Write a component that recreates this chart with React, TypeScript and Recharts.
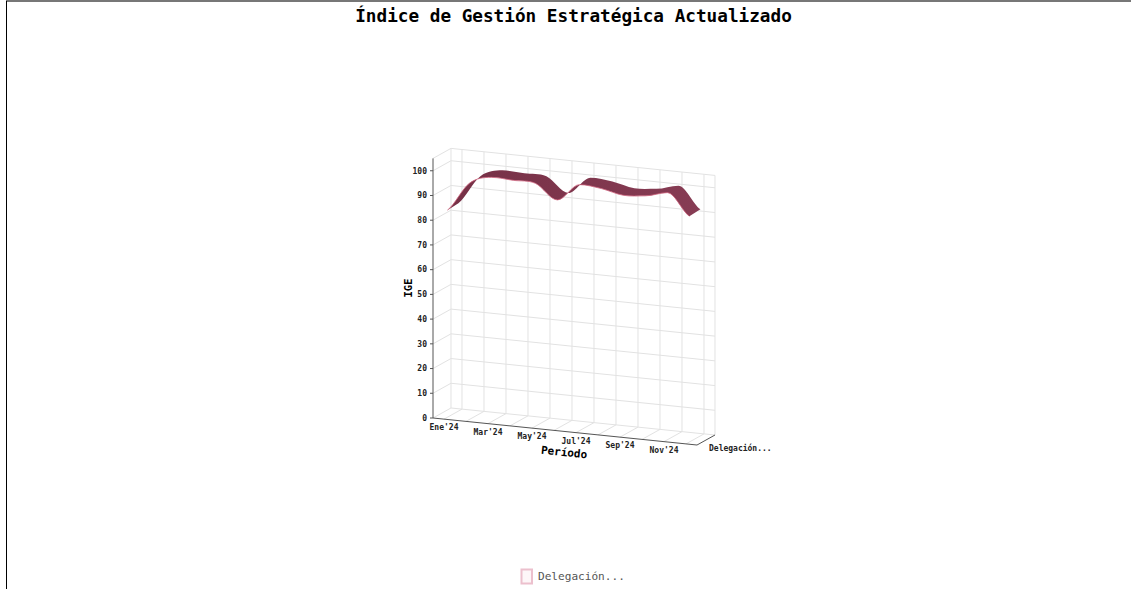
import React from 'react';
import { ComposedChart, Line, XAxis, YAxis, ReferenceLine } from 'recharts';

const months = ["Ene'24", "Feb'24", "Mar'24", "Abr'24", "May'24", "Jun'24", "Jul'24", "Ago'24", "Sep'24", "Oct'24", "Nov'24", "Dic'24"];
const ige = [83.7, 95.5, 98.8, 98.5, 98.2, 92.4, 99.5, 98.8, 97, 97.7, 99.9, 91.3];
const yTicks = [0, 10, 20, 30, 40, 50, 60, 70, 80, 90, 100];
const xTicks = [0, 2, 4, 6, 8, 10];

const data = months.map((m, i) => ({ i, month: m, ige: ige[i] }));

const MONO = '"DejaVu Sans Mono", monospace';
const GRID = '#e2e2e2';
const LEFT = 433;
const SHEAR = 0.1023; // px of drop per px of x on the front plane
const TOP_V = 105;

// front plane is sheared, depth goes up and to the right
const project = (i: number, v: number, depth: number) => ({
  x: i + 0.818 * depth,
  y: v - (i + 0.5) * 0.911 + 4.05 * depth,
});

const seg = (a: { x: number; y: number }, b: { x: number; y: number }, key: string, stroke = GRID) => (
  <ReferenceLine key={key} segment={[a, b]} stroke={stroke} strokeWidth={1} ifOverflow="visible" />
);

const gridLines = [
  ...yTicks.map((v) => seg(project(-0.5, v, 1), project(11.5, v, 1), `back-${v}`)),
  ...yTicks.map((v) => seg(project(-0.5, v, 0), project(-0.5, v, 1), `side-${v}`)),
  ...months.map((_, i) => seg(project(i, 0, 1), project(i, TOP_V, 1), `vert-${i}`)),
  ...months.map((_, i) => seg(project(i, 0, 0), project(i, 0, 1), `floor-${i}`)),
  seg(project(-0.5, 0, 1), project(-0.5, TOP_V, 1), 'wall-l'),
  seg(project(11.5, 0, 1), project(11.5, TOP_V, 1), 'wall-r'),
  seg(project(-0.5, TOP_V, 1), project(11.5, TOP_V, 1), 'wall-t'),
  seg(project(-0.5, TOP_V, 0), project(-0.5, TOP_V, 1), 'side-t'),
  seg(project(-0.5, 0, 0), project(11.5, 0, 0), 'axis-front', '#555555'),
  seg(project(11.5, 0, 0), project(11.5, 0, 1), 'axis-depth', '#555555'),
];

type P = { x: number; y: number };

// smooth segments through the points, flat tangents at local peaks
const spline = (pts: P[]) => {
  const slope = (k: number) => {
    if (k === 0 || k === pts.length - 1) return 0.6 * (k === 0 ? pts[1].y - pts[0].y : pts[k].y - pts[k - 1].y);
    const a = pts[k].y - pts[k - 1].y;
    const b = pts[k + 1].y - pts[k].y;
    return a * b <= 0 ? 0 : (a + b) / 2;
  };
  let d = '';
  for (let k = 0; k < pts.length - 1; k++) {
    const dx = (pts[k + 1].x - pts[k].x) / 3;
    d += ` C${pts[k].x + dx},${pts[k].y + slope(k) / 3} ${pts[k + 1].x - dx},${pts[k + 1].y - slope(k + 1) / 3} ${pts[k + 1].x},${pts[k + 1].y}`;
  }
  return d;
};

const Ribbon = (props: any) => {
  const { index, points } = props;
  if (index !== 0 || !points) return <g key={`r-${index}`} />;
  const front: P[] = points.map((p: any) => ({ x: p.x + 3.4, y: p.y + (p.x - LEFT) * SHEAR - 2 }));
  const back: P[] = front.map((p) => ({ x: p.x + 11, y: p.y - 7 }));
  const rev = [...back].reverse();
  const area = `M${front[0].x},${front[0].y}${spline(front)} L${rev[0].x},${rev[0].y}${spline(rev)} Z`;
  return (
    <g key="ribbon">
      <defs>
        <linearGradient id="ribbonFill" x1="0" y1="0" x2="1" y2="0">
          <stop offset="0%" stopColor="#763046" />
          <stop offset="100%" stopColor="#873c54" />
        </linearGradient>
      </defs>
      <path d={area} fill="url(#ribbonFill)" stroke="none" />
      <path d={`M${front[0].x},${front[0].y}${spline(front)}`} fill="none" stroke="#d0647f" strokeWidth={0.8} />
    </g>
  );
};

const MonthTick = (props: any) => {
  const { x, payload } = props;
  return (
    <text x={x} y={417 + (x - LEFT) * SHEAR + 12} textAnchor="middle" fontFamily={MONO} fontSize={8} fontWeight="bold" fill="#222">
      {months[payload.value]}
    </text>
  );
};

export default function App() {
  return (
    <div style={{ position: 'absolute', left: 0, top: 0, width: 1131, height: 589, overflow: 'hidden', background: '#fff' }}>
      <div style={{ position: 'absolute', left: 6, top: 0, right: 0, borderTop: '2px solid #777' }} />
      <div style={{ position: 'absolute', left: 6, top: 1, bottom: 0, borderLeft: '1px solid #000' }} />
      <ComposedChart width={1131} height={589} data={data} margin={{ top: 158.4, right: 434, bottom: 170, left: 393 }}>
        <XAxis dataKey="i" type="number" domain={[-0.5, 11.5]} ticks={xTicks} height={1} axisLine={false} tickLine={false} tick={MonthTick} interval={0} />
        <YAxis
          type="number"
          domain={[0, TOP_V]}
          ticks={yTicks}
          width={40}
          interval={0}
          stroke="#555555"
          tickSize={3}
          tickMargin={3}
          tick={{ fontFamily: MONO, fontSize: 8, fontWeight: 'bold', fill: '#222' }}
        />
        {gridLines}
        <Line dataKey="ige" stroke="none" dot={Ribbon} activeDot={false} isAnimationActive={false} />
        <text x={573.5} y={22} textAnchor="middle" fontFamily={MONO} fontSize={17.7} fontWeight="bold" fill="#000">
          Índice de Gestión Estratégica Actualizado
        </text>
        <text x={412} y={288} textAnchor="middle" transform="rotate(-90 412 288)" fontFamily={MONO} fontSize={10.5} fontWeight="bold" fill="#000">
          IGE
        </text>
        <text x={564} y={456} textAnchor="middle" transform="rotate(5.8 564 453)" fontFamily={MONO} fontSize={11} fontWeight="bold" fill="#000">
          Período
        </text>
        <text x={709} y={451} fontFamily={MONO} fontSize={8} fontWeight="bold" fill="#222">
          Delegación...
        </text>
        <rect x={521.5} y={569.5} width={10.5} height={14} fill="#fdf6f8" stroke="#ecc0cd" strokeWidth={2} />
        <text x={538} y={580} fontFamily={MONO} fontSize={11.1} fill="#555">
          Delegación...
        </text>
      </ComposedChart>
    </div>
  );
}
